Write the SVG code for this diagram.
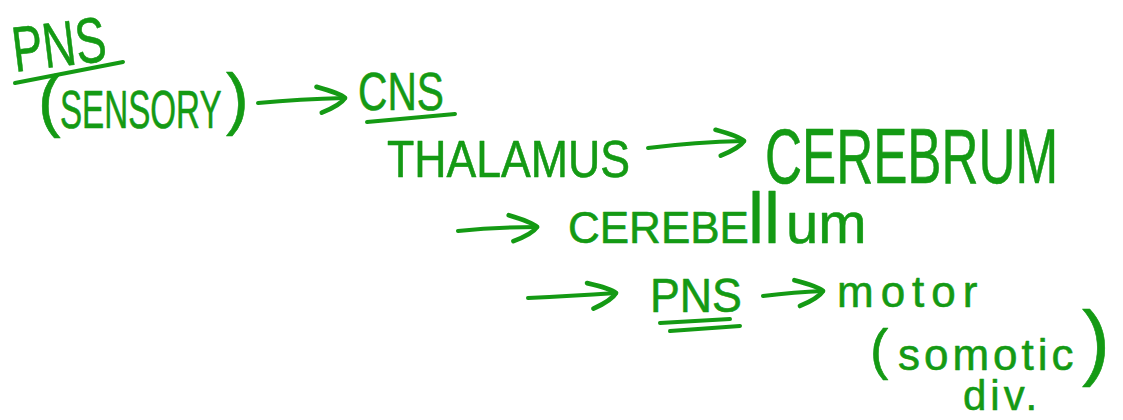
<svg xmlns="http://www.w3.org/2000/svg" width="1123" height="420" viewBox="0 0 1123 420">
  <style>
    .ink { fill: #149a14; stroke: #149a14; stroke-width: 0.6; stroke-linejoin: round; font-family: "Liberation Sans", Arial, sans-serif; }
    .pen { fill: none; stroke: #149a14; stroke-width: 4; stroke-linecap: round; stroke-linejoin: round; }
  </style>
  <defs>
    <marker id="head" markerUnits="userSpaceOnUse" markerWidth="40" markerHeight="40" refX="0" refY="0" viewBox="-30 -16 34 32" orient="auto" overflow="visible">
      <path d="M-24,-10 Q-4,-4 0,0 Q-4,6 -20,12" fill="none" stroke="#149a14" stroke-width="4" stroke-linecap="round" stroke-linejoin="round"/>
    </marker>
  </defs>
  <rect width="1123" height="420" fill="#ffffff"/>

  <!-- sensory input; narrow letters come from a horizontal scale -->
  <g id="pns-sensory">
    <text class="ink" font-size="64" transform="rotate(-7 15 72) translate(15 72) scale(0.714 1)">PNS</text>
    <path class="pen" d="M15,83 L123,62"/>
    <text class="ink" x="38" y="124" font-size="68">(</text>
    <text class="ink" font-size="54" transform="translate(60 128) scale(0.614 1)">SENSORY</text>
    <text class="ink" x="226" y="122" font-size="68">)</text>
  </g>

  <g id="cns">
    <text class="ink" font-size="53" transform="translate(358 110) scale(0.768 1)">CNS</text>
    <path class="pen" d="M367,122 L455,114"/>
  </g>

  <g id="thalamus">
    <text class="ink" font-size="52" transform="translate(387 177) scale(0.858 1)">THALAMUS</text>
  </g>

  <g id="cerebrum">
    <text class="ink" font-size="78" transform="translate(765 183) scale(0.657 1)">CEREBRUM</text>
  </g>

  <g id="cerebellum">
    <text class="ink" y="243"><tspan x="568" font-size="44">CEREBE</tspan><tspan x="748" font-size="72">ll</tspan><tspan x="786" font-size="58">um</tspan></text>
  </g>

  <g id="pns-out">
    <text class="ink" font-size="48" transform="translate(650 312) scale(0.932 1)">PNS</text>
    <path class="pen" d="M660,323 L730,319"/>
    <path class="pen" d="M670,331 L740,326"/>
  </g>

  <g id="motor">
    <text class="ink" x="837" y="307" font-size="44" letter-spacing="7">motor</text>
    <text class="ink" x="870" y="368" font-size="55">(</text>
    <text class="ink" x="898" y="370" font-size="44" letter-spacing="4">somotic</text>
    <text class="ink" x="1082" y="370" font-size="84">)</text>
    <text class="ink" x="963" y="410" font-size="42" letter-spacing="4">div.</text>
  </g>

  <g id="connectors">
    <path class="pen" d="M258,103 Q300,99 345,98" marker-end="url(#head)"/>
    <path class="pen" d="M648,148 Q695,142 744,141" marker-end="url(#head)"/>
    <path class="pen" d="M458,231 Q495,227 537,227" marker-end="url(#head)"/>
    <path class="pen" d="M528,298 Q570,296 616,293" marker-end="url(#head)"/>
    <path class="pen" d="M763,296 Q795,292 823,291" marker-end="url(#head)"/>
  </g>
</svg>
